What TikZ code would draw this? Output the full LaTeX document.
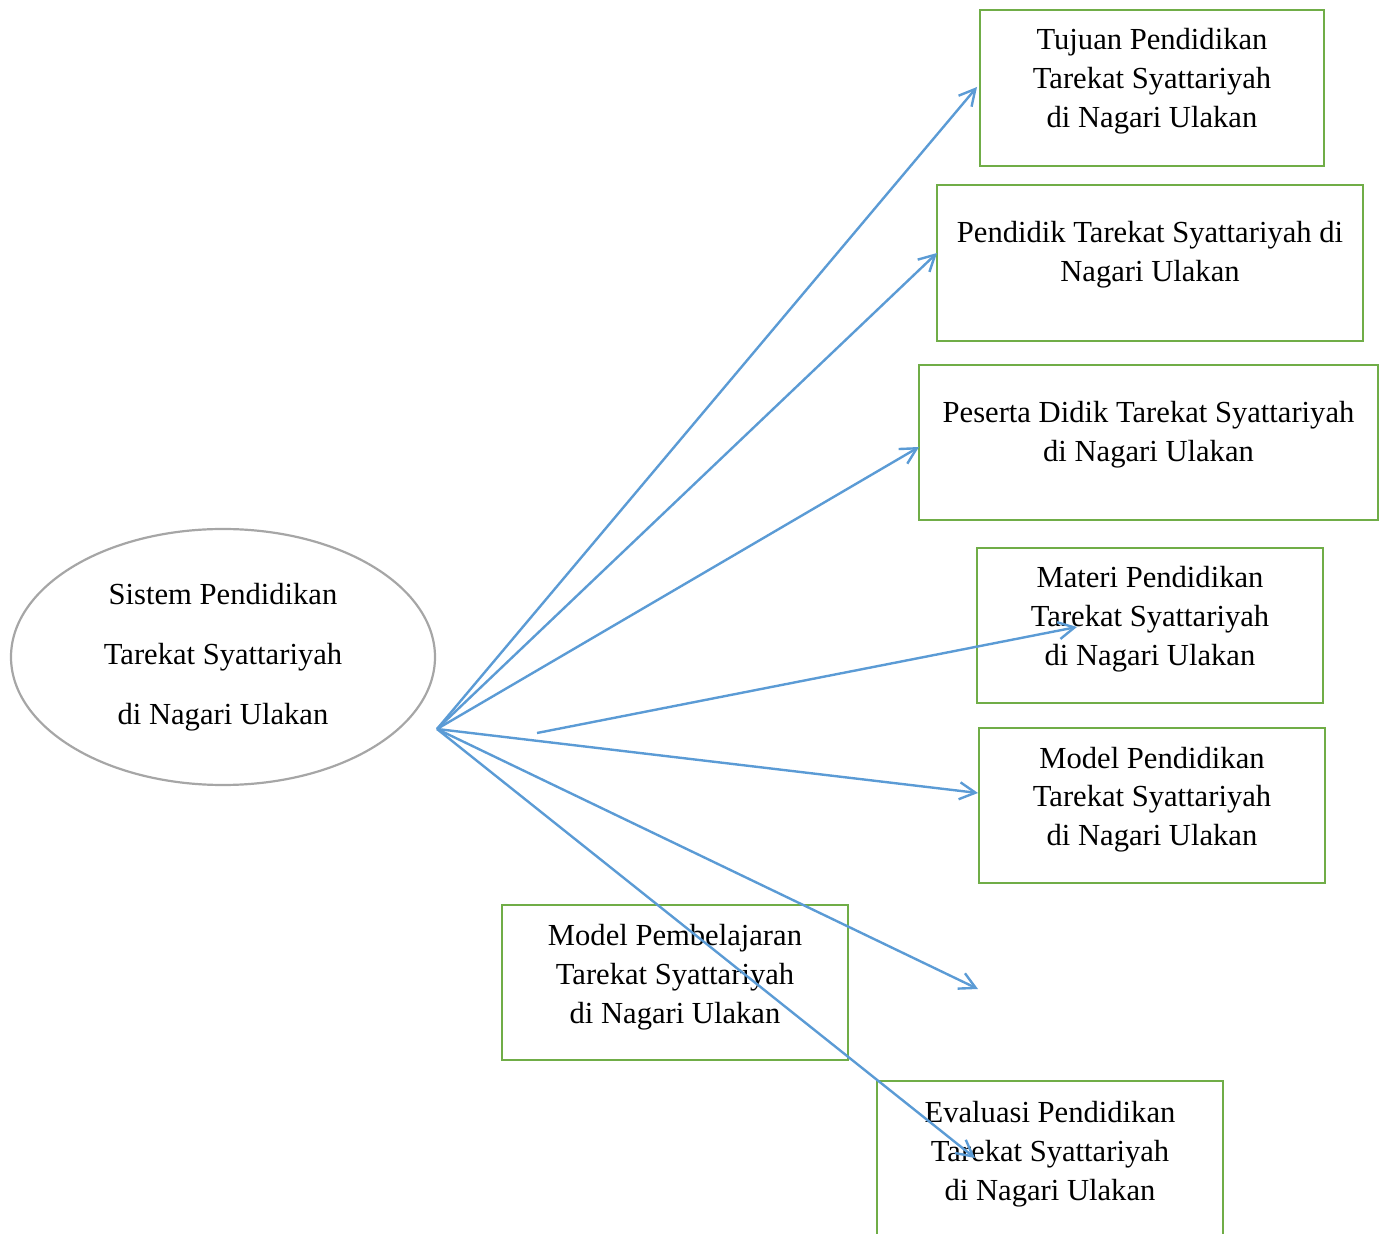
\documentclass[tikz,border=0pt]{standalone}
\usepackage{fontspec}
\setmainfont{Liberation Serif}
\usetikzlibrary{arrows.meta,shapes.geometric}
\definecolor{arrblue}{RGB}{91,155,213}
\definecolor{boxgreen}{RGB}{112,173,71}
\definecolor{ellgray}{RGB}{166,166,166}
\tikzset{
  greenbox/.style={draw=boxgreen, line width=1.2pt, rectangle, inner sep=0pt},
  ellnode/.style={draw=ellgray, line width=1.1pt, ellipse, inner sep=0pt},
  boxtext/.style={align=center, anchor=base, inner sep=0pt, font=\fontsize{15.3pt}{19.5pt}\selectfont},
  elltext/.style={align=center, anchor=base, inner sep=0pt, font=\fontsize{15.3pt}{30pt}\selectfont},
  arr/.style={draw=arrblue, line width=1.2pt, -{Straight Barb[length=8pt,width=8.5pt]}}
}
\begin{document}
\begin{tikzpicture}[x=0.5pt,y=-0.5pt]
\useasboundingbox (0,0) rectangle (1387,1234);
\clip (0,0) rectangle (1387,1234);
% ellipse
\node[ellnode, minimum width=212pt, minimum height=128pt] (ell) at (223,657) {};
\node[elltext] (ellt) at (223,725) {Sistem Pendidikan\\Tarekat Syattariyah\\di Nagari Ulakan};
% boxes
\node[greenbox, minimum width=172pt, minimum height=78pt] (b1) at (1152,88) {};
\node[boxtext] (b1t) at (1152,128) {Tujuan Pendidikan\\Tarekat Syattariyah\\di Nagari Ulakan};
\node[greenbox, minimum width=213pt, minimum height=78pt] (b2) at (1150,263) {};
\node[boxtext] (b2t) at (1150,282) {Pendidik Tarekat Syattariyah di\\Nagari Ulakan};
\node[greenbox, minimum width=229.5pt, minimum height=77.5pt] (b3) at (1148.5,442.5) {};
\node[boxtext] (b3t) at (1148.5,462) {Peserta Didik Tarekat Syattariyah\\di Nagari Ulakan};
\node[greenbox, minimum width=173pt, minimum height=77.5pt] (b4) at (1150,625.5) {};
\node[boxtext] (b4t) at (1150,666) {Materi Pendidikan\\Tarekat Syattariyah\\di Nagari Ulakan};
\node[greenbox, minimum width=173pt, minimum height=77.5pt] (b5) at (1152,805.5) {};
\node[boxtext] (b5t) at (1152,846) {Model Pendidikan\\Tarekat Syattariyah\\di Nagari Ulakan};
\node[greenbox, minimum width=173pt, minimum height=77.5pt] (b6) at (675,982.5) {};
\node[boxtext] (b6t) at (675,1023) {Model Pembelajaran\\Tarekat Syattariyah\\di Nagari Ulakan};
\node[greenbox, minimum width=173pt, minimum height=77.5pt] (b7) at (1050,1158.5) {};
\node[boxtext] (b7t) at (1050,1200) {Evaluasi Pendidikan\\Tarekat Syattariyah\\di Nagari Ulakan};
% arrow end points
\coordinate (src) at (437,729);
\coordinate (t1) at (977,87);
\coordinate (t2) at (937,253);
\coordinate (t3) at (919,447);
\coordinate (s4) at (537,733);
\coordinate (t4) at (1077,627);
\coordinate (t5) at (978,793);
\coordinate (t6) at (978,989);
\coordinate (t7) at (975,1158);
\draw[arr] (src) -- (t1);
\draw[arr] (src) -- (t2);
\draw[arr] (src) -- (t3);
\draw[arr] (s4) -- (t4);
\draw[arr] (src) -- (t5);
\draw[arr] (src) -- (t6);
\draw[arr] (src) -- (t7);
\end{tikzpicture}
\end{document}
